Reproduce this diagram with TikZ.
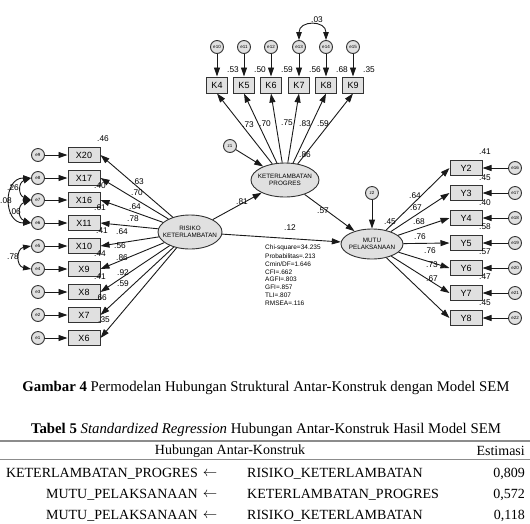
\documentclass[tikz,border=0pt]{standalone}
\usepackage{fontspec}
\setmainfont{Liberation Serif}
\newfontfamily\amosfont{Liberation Sans}
\usetikzlibrary{arrows.meta,shapes.geometric}

\tikzset{
  obs/.style={draw=black!80, fill=black!12, line width=1pt, minimum width=32pt,
    minimum height=15pt, inner sep=0pt, font=\amosfont\fontsize{9}{10}\selectfont},
  tobs/.style={obs, minimum width=21pt, minimum height=16pt},
  lat/.style={ellipse, draw=black!80, fill=black!12, line width=0.9pt, inner sep=0pt},
  lattext/.style={align=center, inner sep=0pt, font=\amosfont\fontsize{6.3}{7.5}\selectfont},
  err/.style={circle, draw=black!80, fill=black!12, line width=0.9pt, minimum size=13pt,
    inner sep=0pt, font=\amosfont\fontsize{4.5}{5}\selectfont},
  regarrow/.style={-{Triangle[length=9pt,width=6pt]}, line width=0.9pt, black!90},
  cov/.style={{Triangle[length=8pt,width=5.5pt]}-{Triangle[length=8pt,width=5.5pt]},
    line width=0.9pt, black!90},
  val/.style={inner sep=0pt, font=\amosfont\fontsize{8.3}{9}\selectfont},
  fitstat/.style={inner sep=0pt, anchor=west, font=\amosfont\fontsize{6.5}{7}\selectfont},
  cell/.style={inner sep=0pt, font=\fontsize{14}{16}\selectfont},
  capt/.style={inner sep=0pt, font=\fontsize{14.8}{17}\selectfont},
}

\begin{document}
\begin{tikzpicture}[x=1pt,y=-1pt]
            \useasboundingbox (0,0) rectangle (530,523);
            % latent variables
            \node[lat, minimum width=64pt, minimum height=34pt] (RK) at (190,232) {};
            \node[lattext] at (RK) {RISIKO\\KETERLAMBATAN};
            \node[lat, minimum width=68pt, minimum height=34pt] (KP) at (285,180) {};
            \node[lattext] at (KP) {KETERLAMBATAN\\PROGRES};
            \node[lat, minimum width=62pt, minimum height=30pt] (MP) at (372,244) {};
            \node[lattext] at (MP) {MUTU\\PELAKSANAAN};
            \node[err] (z1) at (230,146) {z1};
            \node[err] (z2) at (372,193) {z2};
            % left indicators
            \node[obs] (X20) at (84,155) {X20};
            \node[obs] (X17) at (84,178) {X17};
            \node[obs] (X16) at (84,200) {X16};
            \node[obs] (X11) at (84,223) {X11};
            \node[obs] (X10) at (84,246) {X10};
            \node[obs] (X9)  at (84,269) {X9};
            \node[obs] (X8)  at (84,292) {X8};
            \node[obs] (X7)  at (84,315) {X7};
            \node[obs] (X6)  at (84,338) {X6};
            \node[err] (e9) at (38,155) {e9};
            \node[err] (e8) at (38,178) {e8};
            \node[err] (e7) at (38,200) {e7};
            \node[err] (e6) at (38,223) {e6};
            \node[err] (e5) at (38,246) {e5};
            \node[err] (e4) at (38,269) {e4};
            \node[err] (e3) at (38,292) {e3};
            \node[err] (e2) at (38,315) {e2};
            \node[err] (e1) at (38,338) {e1};
            % top indicators
            \node[tobs] (K4) at (217,85) {K4};
            \node[tobs] (K5) at (244,85) {K5};
            \node[tobs] (K6) at (271,85) {K6};
            \node[tobs] (K7) at (299,85) {K7};
            \node[tobs] (K8) at (326,85) {K8};
            \node[tobs] (K9) at (353,85) {K9};
            \node[err] (e10) at (217,47) {e10};
            \node[err] (e11) at (244,47) {e11};
            \node[err] (e12) at (271,47) {e12};
            \node[err] (e13) at (299,47) {e13};
            \node[err] (e14) at (326,47) {e14};
            \node[err] (e15) at (353,47) {e15};
            % right indicators
            \node[obs] (Y2) at (466,168) {Y2};
            \node[obs] (Y3) at (466,193) {Y3};
            \node[obs] (Y4) at (466,218) {Y4};
            \node[obs] (Y5) at (466,243) {Y5};
            \node[obs] (Y6) at (466,268) {Y6};
            \node[obs] (Y7) at (466,293) {Y7};
            \node[obs] (Y8) at (466,318) {Y8};
            \node[err] (e16) at (515,168) {e16};
            \node[err] (e17) at (515,193) {e17};
            \node[err] (e18) at (515,218) {e18};
            \node[err] (e19) at (515,243) {e19};
            \node[err] (e20) at (515,268) {e20};
            \node[err] (e21) at (515,293) {e21};
            \node[err] (e22) at (515,318) {e22};
            % structural paths
            \draw[regarrow] (RK) -- (KP);
            \draw[regarrow] (RK) -- (MP);
            \draw[regarrow] (KP) -- (MP);
            \draw[regarrow] (z1) -- (KP);
            \draw[regarrow] (z2) -- (MP);
            % loadings
            \draw[regarrow] (RK) -- (X20.east);
            \draw[regarrow] (RK) -- (X17.east);
            \draw[regarrow] (RK) -- (X16.east);
            \draw[regarrow] (RK) -- (X11.east);
            \draw[regarrow] (RK) -- (X10.east);
            \draw[regarrow] (RK) -- (X9.east);
            \draw[regarrow] (RK) -- (X8.east);
            \draw[regarrow] (RK) -- (X7.east);
            \draw[regarrow] (RK) -- (X6.east);
            \draw[regarrow] (KP) -- (K4.south);
            \draw[regarrow] (KP) -- (K5.south);
            \draw[regarrow] (KP) -- (K6.south);
            \draw[regarrow] (KP) -- (K7.south);
            \draw[regarrow] (KP) -- (K8.south);
            \draw[regarrow] (KP) -- (K9.south);
            \draw[regarrow] (MP) -- (Y2.west);
            \draw[regarrow] (MP) -- (Y3.west);
            \draw[regarrow] (MP) -- (Y4.west);
            \draw[regarrow] (MP) -- (Y5.west);
            \draw[regarrow] (MP) -- (Y6.west);
            \draw[regarrow] (MP) -- (Y7.west);
            \draw[regarrow] (MP) -- (Y8.west);
            % errors
            \draw[regarrow] (e9) -- (X20);
            \draw[regarrow] (e8) -- (X17);
            \draw[regarrow] (e7) -- (X16);
            \draw[regarrow] (e6) -- (X11);
            \draw[regarrow] (e5) -- (X10);
            \draw[regarrow] (e4) -- (X9);
            \draw[regarrow] (e3) -- (X8);
            \draw[regarrow] (e2) -- (X7);
            \draw[regarrow] (e1) -- (X6);
            \draw[regarrow] (e10) -- (K4);
            \draw[regarrow] (e11) -- (K5);
            \draw[regarrow] (e12) -- (K6);
            \draw[regarrow] (e13) -- (K7);
            \draw[regarrow] (e14) -- (K8);
            \draw[regarrow] (e15) -- (K9);
            \draw[regarrow] (e16) -- (Y2);
            \draw[regarrow] (e17) -- (Y3);
            \draw[regarrow] (e18) -- (Y4);
            \draw[regarrow] (e19) -- (Y5);
            \draw[regarrow] (e20) -- (Y6);
            \draw[regarrow] (e21) -- (Y7);
            \draw[regarrow] (e22) -- (Y8);
            % covariances
            \draw[cov] (e8.west) to[out=180,in=180,looseness=1.6] (e6.west);
            \draw[cov] (e8.west) to[out=200,in=160,looseness=1.6] (e7.west);
            \draw[cov] (e7.west) to[out=200,in=160,looseness=1.6] (e6.west);
            \draw[cov] (e5.west) to[out=190,in=170,looseness=1.7] (e4.west);
            \draw[cov] (e13.north) to[out=90,in=90,looseness=1.9] (e14.north);
            % estimates
            \node[val] at (317,20) {.03};
            \node[val] at (13,188) {.26};
            \node[val] at (6,201) {.08};
            \node[val] at (15,212) {.06};
            \node[val] at (13,257) {.78};
            \node[val] at (233,70) {.53};
            \node[val] at (260,70) {.50};
            \node[val] at (287,70) {.59};
            \node[val] at (315,70) {.56};
            \node[val] at (342,70) {.68};
            \node[val] at (369,70) {.35};
            \node[val] at (248,125) {.73};
            \node[val] at (265,124) {.70};
            \node[val] at (287,123) {.75};
            \node[val] at (305,124) {.83};
            \node[val] at (323,124) {.59};
            \node[val] at (305,155) {.86};
            \node[val] at (103,139) {.46};
            \node[val] at (100,186) {.40};
            \node[val] at (100,208) {.61};
            \node[val] at (102,231) {.41};
            \node[val] at (100,254) {.44};
            \node[val] at (100,277) {.41};
            \node[val] at (101,298) {.66};
            \node[val] at (104,320) {.35};
            \node[val] at (138,182) {.63};
            \node[val] at (137,193) {.70};
            \node[val] at (135,207) {.64};
            \node[val] at (133,219) {.78};
            \node[val] at (122,232) {.64};
            \node[val] at (120,246) {.56};
            \node[val] at (122,258) {.86};
            \node[val] at (123,273) {.92};
            \node[val] at (123,284) {.59};
            \node[val] at (485,152) {.41};
            \node[val] at (485,178) {.45};
            \node[val] at (485,203) {.40};
            \node[val] at (485,227) {.58};
            \node[val] at (485,252) {.57};
            \node[val] at (485,277) {.47};
            \node[val] at (485,303) {.45};
            \node[val] at (415,196) {.64};
            \node[val] at (416,208) {.67};
            \node[val] at (419,222) {.68};
            \node[val] at (420,237) {.76};
            \node[val] at (430,251) {.76};
            \node[val] at (432,265) {.73};
            \node[val] at (432,279) {.67};
            \node[val] at (242,202) {.81};
            \node[val] at (290,228) {.12};
            \node[val] at (323,211) {.57};
            \node[val] at (390,222) {.45};
            % fit statistics
            \node[fitstat] at (265,248) {Chi-square=34.235};
            \node[fitstat] at (265,256) {Probabilitas=.213};
            \node[fitstat] at (265,264) {Cmin/DF=1.646};
            \node[fitstat] at (265,272) {CFI=.662};
            \node[fitstat] at (265,279) {AGFI=.803};
            \node[fitstat] at (265,287) {GFI=.857};
            \node[fitstat] at (265,295) {TLI=.807};
            \node[fitstat] at (265,303) {RMSEA=.116};
            % caption and table
            \node[capt] (cap) at (266,388) {\textbf{Gambar 4} Permodelan Hubungan Struktural Antar-Konstruk dengan Model SEM};
            \node[capt] (ttl) at (266,430) {\textbf{Tabel 5} \textit{Standardized Regression} Hubungan Antar-Konstruk Hasil Model SEM};
            \draw[line width=1.5pt, black!45] (0,441) -- (530,441);
            \draw[line width=0.6pt, black!45] (0,459) -- (530,459);
            \node[cell] (h1) at (230,451) {Hubungan Antar-Konstruk};
            \node[cell, anchor=east] (h2) at (525,451) {Estimasi};
            \node[cell, anchor=east] (a1) at (198,474) {KETERLAMBATAN\_PROGRES};
            \node[cell] (b1) at (210,474) {$\leftarrow$};
            \node[cell, anchor=west] (c1) at (247,474) {RISIKO\_KETERLAMBATAN};
            \node[cell, anchor=east] (d1) at (525,474) {0,809};
            \node[cell, anchor=east] (a2) at (198,495) {MUTU\_PELAKSANAAN};
            \node[cell] (b2) at (210,495) {$\leftarrow$};
            \node[cell, anchor=west] (c2) at (247,495) {KETERLAMBATAN\_PROGRES};
            \node[cell, anchor=east] (d2) at (525,495) {0,572};
            \node[cell, anchor=east] (a3) at (198,516) {MUTU\_PELAKSANAAN};
            \node[cell] (b3) at (210,516) {$\leftarrow$};
            \node[cell, anchor=west] (c3) at (247,516) {RISIKO\_KETERLAMBATAN};
            \node[cell, anchor=east] (d3) at (525,516) {0,118};
        \end{tikzpicture}
\end{document}
